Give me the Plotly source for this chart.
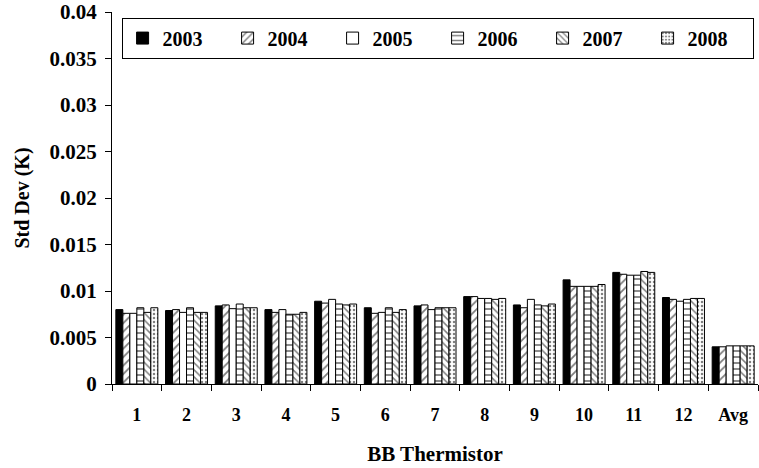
import plotly.graph_objects as go

categories = ["1", "2", "3", "4", "5", "6", "7", "8", "9", "10", "11", "12", "Avg"]
years = ["2003", "2004", "2005", "2006", "2007", "2008"]

v2003 = [0.0080, 0.0079, 0.0084, 0.0080, 0.0089, 0.0082, 0.0084, 0.0094, 0.0085, 0.0112, 0.0120, 0.0093, 0.0040]
v2004 = [0.0076, 0.0080, 0.0085, 0.0077, 0.0087, 0.0076, 0.0085, 0.0094, 0.0082, 0.0105, 0.0118, 0.0091, 0.0040]
v2005 = [0.0076, 0.0077, 0.0081, 0.0080, 0.0091, 0.0077, 0.0080, 0.0092, 0.0091, 0.0105, 0.0117, 0.0089, 0.0041]
v2006 = [0.0082, 0.0082, 0.0086, 0.0075, 0.0086, 0.0082, 0.0082, 0.0092, 0.0085, 0.0105, 0.0117, 0.0091, 0.0041]
v2007 = [0.0077, 0.0077, 0.0082, 0.0075, 0.0085, 0.0077, 0.0082, 0.0091, 0.0084, 0.0105, 0.0121, 0.0092, 0.0041]
v2008 = [0.0082, 0.0077, 0.0082, 0.0077, 0.0086, 0.0080, 0.0082, 0.0092, 0.0086, 0.0107, 0.0120, 0.0092, 0.0041]

series = [v2003, v2004, v2005, v2006, v2007, v2008]

ytick_vals = [0, 0.005, 0.01, 0.015, 0.02, 0.025, 0.03, 0.035, 0.04]
ytick_text = ["0", "0.005", "0.01", "0.015", "0.02", "0.025", "0.03", "0.035", "0.04"]

styles = [
    dict(color="black", pattern=None),
    dict(color="white", pattern=dict(shape="/", fgcolor="black", bgcolor="white", size=6, solidity=0.3)),
    dict(color="white", pattern=None),
    dict(color="white", pattern=dict(shape="-", fgcolor="black", bgcolor="white", size=6, solidity=0.3)),
    dict(color="white", pattern=dict(shape="\\", fgcolor="black", bgcolor="white", size=5, solidity=0.3)),
    dict(color="white", pattern=dict(shape=".", fgcolor="black", bgcolor="white", size=4, solidity=0.3)),
]

fig = go.Figure()
for name, vals, st in zip(years, series, styles):
    marker = dict(color=st["color"], line=dict(color="black", width=1))
    if st["pattern"] is not None:
        marker["pattern"] = st["pattern"]
    fig.add_trace(go.Bar(name=name, x=categories, y=vals, marker=marker))

font_family = "Liberation Serif"

fig.update_layout(
    width=759, height=468,
    margin=dict(l=112, r=1, t=12, b=84),
    paper_bgcolor="white", plot_bgcolor="white",
    barmode="group", bargap=0.155, bargroupgap=0,
    font=dict(family=font_family, size=20, color="black", weight="bold"),
    legend=dict(
        orientation="h", x=0.504, xanchor="center", y=0.985, yanchor="top",
        bordercolor="black", borderwidth=1, bgcolor="white",
        font=dict(family=font_family, size=20, color="black", weight="bold"),
        entrywidth=60, entrywidthmode="pixels", traceorder="normal",
    ),
    showlegend=True,
)

fig.update_xaxes(
    type="category", showline=True, linecolor="black", linewidth=1,
    ticks="outside", tickson="boundaries", ticklen=6, tickcolor="black",
    ticklabelstandoff=14,
    tickfont=dict(family=font_family, size=18, weight="bold"),
    title=dict(text="BB Thermistor", font=dict(family=font_family, size=21, weight="bold"), standoff=22),
    showgrid=False,
)
fig.update_yaxes(
    range=[0, 0.04], tickvals=ytick_vals, ticktext=ytick_text,
    showline=True, linecolor="black", linewidth=1,
    ticks="outside", ticklen=6, tickcolor="black", ticklabelstandoff=4,
    tickfont=dict(family=font_family, size=21, weight="bold"),
    title=dict(text="Std Dev (K)", font=dict(family=font_family, size=20, weight="bold"), standoff=14),
    showgrid=False, zeroline=False,
)

fig.write_html("out.html")
